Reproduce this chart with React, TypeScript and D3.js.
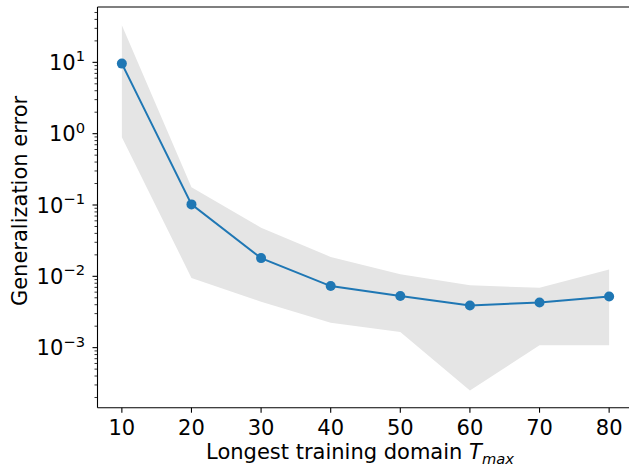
import React from "react";
import * as d3 from "d3";

const tmax = [10, 20, 30, 40, 50, 60, 70, 80];
const meanErr = [9.6, 0.102, 0.018, 0.0073, 0.0053, 0.0039, 0.0043, 0.0052];
const upperErr = [33, 0.177, 0.048, 0.0187, 0.0107, 0.0075, 0.0069, 0.0125];
const lowerErr = [0.89, 0.0095, 0.0044, 0.00224, 0.00166, 0.00025, 0.00108, 0.00108];
const xTicks = [10, 20, 30, 40, 50, 60, 70, 80];
const yTickExps = [-3, -2, -1, 0, 1];

const W = 629;
const H = 466;
const left = 97.5;
const right = 633.5;
const top = 7;
const bottom = 407.7;
const FS = 21;

export default function App() {
  const x = d3.scaleLinear().domain([6.5, 83.5]).range([left, right]);
  const y = d3
    .scaleLog()
    .domain([Math.pow(10, -3.842), Math.pow(10, 1.776)])
    .range([bottom, top]);

  const rows = tmax.map((t, i) => ({ t, m: meanErr[i], lo: lowerErr[i], hi: upperErr[i] }));
  const area = d3
    .area<any>()
    .x((d) => x(d.t))
    .y0((d) => y(d.lo))
    .y1((d) => y(d.hi));
  const line = d3
    .line<any>()
    .x((d) => x(d.t))
    .y((d) => y(d.m));

  const [d0, d1] = y.domain();
  const minor: number[] = [];
  for (let e = -4; e <= 2; e++) {
    for (let k = 2; k <= 9; k++) {
      const v = k * Math.pow(10, e);
      if (v >= d0 && v <= d1) minor.push(v);
    }
  }

  return (
    <svg
      width={W}
      height={H}
      style={{ position: "absolute", left: 0, top: 0, fontFamily: "DejaVu Sans" }}
    >
      <rect x={0} y={0} width={W} height={H} fill="#fff" />
      <path d={area(rows) || ""} fill="#e5e5e5" stroke="none" />
      <path d={line(rows) || ""} fill="none" stroke="#1f77b4" strokeWidth={2} />
      {rows.map((r, i) => (
        <circle key={i} cx={x(r.t)} cy={y(r.m)} r={5} fill="#1f77b4" />
      ))}
      {/* spines */}
      <line x1={left} x2={left} y1={top} y2={bottom} stroke="#000" strokeWidth={1.1} />
      <line x1={left} x2={right} y1={bottom} y2={bottom} stroke="#000" strokeWidth={1.1} />
      <line x1={left} x2={right} y1={top} y2={top} stroke="#000" strokeWidth={1.1} />
      <line x1={right} x2={right} y1={top} y2={bottom} stroke="#000" strokeWidth={1.1} />
      {/* x ticks */}
      {xTicks.map((t) => (
        <g key={t}>
          <line x1={x(t)} x2={x(t)} y1={bottom} y2={bottom + 5} stroke="#000" strokeWidth={1.1} />
          <text x={x(t)} y={bottom + 26.8} fontSize={FS} textAnchor="middle" fill="#000">
            {t}
          </text>
        </g>
      ))}
      {/* y ticks */}
      {yTickExps.map((e) => {
        const yy = y(Math.pow(10, e));
        return (
          <g key={e}>
            <line x1={left - 5} x2={left} y1={yy} y2={yy} stroke="#000" strokeWidth={1.1} />
            <text x={85} y={yy + 7.7} fontSize={FS} textAnchor="end" fill="#000">
              <tspan>10</tspan>
              <tspan fontSize={FS * 0.7} dy={-8.8}>
                {e < 0 ? "\u2212" + Math.abs(e) : String(e)}
              </tspan>
            </text>
          </g>
        );
      })}
      {minor.map((v, i) => (
        <line
          key={i}
          x1={left - 3}
          x2={left}
          y1={y(v)}
          y2={y(v)}
          stroke="#000"
          strokeWidth={0.8}
        />
      ))}
      {/* axis labels */}
      <text x={360} y={459.3} fontSize={FS} textAnchor="middle" fill="#000">
        <tspan>Longest training domain </tspan>
        <tspan fontStyle="italic">T</tspan>
        <tspan fontStyle="italic" fontSize={FS * 0.7} dy={4.5}>
          max
        </tspan>
      </text>
      <text
        transform={`translate(27, 201) rotate(-90)`}
        fontSize={FS}
        textAnchor="middle"
        fill="#000"
      >
        Generalization error
      </text>
    </svg>
  );
}
